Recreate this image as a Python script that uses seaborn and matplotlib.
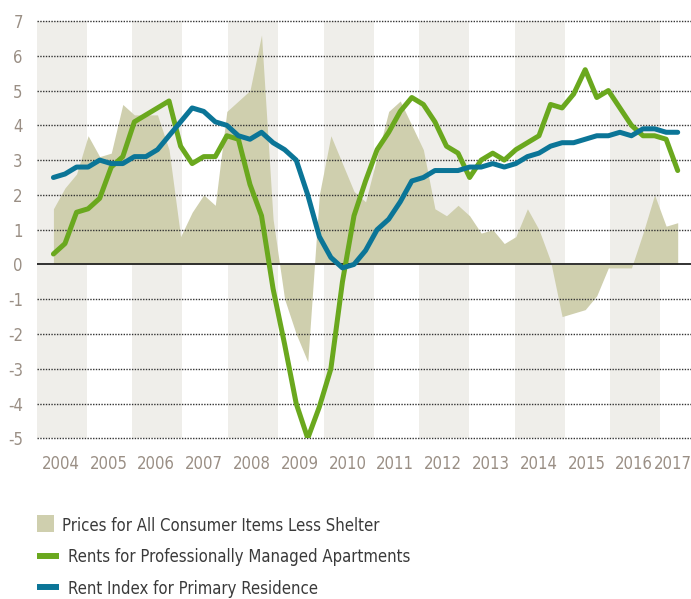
import numpy as np
import pandas as pd
import matplotlib
matplotlib.use('Agg')
import matplotlib.pyplot as plt
import seaborn as sns
from matplotlib import font_manager
from matplotlib.patches import Rectangle
from matplotlib.lines import Line2D

# quarterly year-over-year changes, %, 2004Q1 - 2017Q3
quarters = pd.period_range('2004Q1', '2017Q3', freq='Q').astype(str)

prices_less_shelter = [1.6, 2.2, 2.6, 3.7, 3.1, 3.2, 4.6, 4.3, 4.3, 4.3,
                       3.3, 0.8, 1.5, 2.0, 1.7, 4.4, 4.7, 5.0, 6.6, 1.3,
                       -1.0, -2.0, -2.8, 2.0, 3.7, 2.9, 2.1, 1.8, 3.1, 4.4,
                       4.7, 4.0, 3.3, 1.6, 1.4, 1.7, 1.4, 0.9, 1.0, 0.6,
                       0.8, 1.6, 1.0, 0.1, -1.5, -1.4, -1.3, -0.9, -0.1, -0.1,
                       -0.1, 0.9, 2.0, 1.1, 1.2]

rents_managed = [0.3, 0.6, 1.5, 1.6, 1.9, 2.8, 3.1, 4.1, 4.3, 4.5,
                 4.7, 3.4, 2.9, 3.1, 3.1, 3.7, 3.6, 2.3, 1.4, -0.7,
                 -2.3, -4.0, -5.0, -4.1, -3.0, -0.5, 1.4, 2.4, 3.3, 3.8,
                 4.4, 4.8, 4.6, 4.1, 3.4, 3.2, 2.5, 3.0, 3.2, 3.0,
                 3.3, 3.5, 3.7, 4.6, 4.5, 4.9, 5.6, 4.8, 5.0, 4.5,
                 4.0, 3.7, 3.7, 3.6, 2.7]

rent_index_primary = [2.5, 2.6, 2.8, 2.8, 3.0, 2.9, 2.9, 3.1, 3.1, 3.3,
                      3.7, 4.1, 4.5, 4.4, 4.1, 4.0, 3.7, 3.6, 3.8, 3.5,
                      3.3, 3.0, 2.0, 0.8, 0.2, -0.1, 0.0, 0.4, 1.0, 1.3,
                      1.8, 2.4, 2.5, 2.7, 2.7, 2.7, 2.8, 2.8, 2.9, 2.8,
                      2.9, 3.1, 3.2, 3.4, 3.5, 3.5, 3.6, 3.7, 3.7, 3.8,
                      3.7, 3.9, 3.9, 3.8, 3.8]

years = list(range(2004, 2018))
y_ticks = list(range(-5, 8))

legend_labels = ['Prices for All Consumer Items Less Shelter',
                 'Rents for Professionally Managed Apartments',
                 'Rent Index for Primary Residence']

GREEN = '#6aa81e'
BLUE = '#0b7597'
AREA = '#cfcfae'
BAND = '#efeeea'
TICK = '#9a8f85'
TEXT = '#3a3a3a'

sns.set_style('white')

# look for a narrow face; the original uses a condensed sans
names = {f.name for f in font_manager.fontManager.ttflist}
narrow = [f for f in font_manager.fontManager.ttflist
          if f.name in ('Liberation Sans Narrow', 'DejaVu Sans')
          and str(f.stretch) in ('condensed', 'semi-condensed', '412', '375')
          and f.weight in (400, 'normal')]
if 'Liberation Sans Narrow' in names:
    plt.rcParams['font.family'] = ['Liberation Sans Narrow', 'DejaVu Sans']
    FS = 13
elif narrow:
    plt.rcParams['font.family'] = [narrow[0].name]
    plt.rcParams['font.stretch'] = 'condensed'
    FS = 12
else:
    plt.rcParams['font.family'] = ['Roboto', 'DejaVu Sans']
    FS = 11

df = pd.DataFrame({
    'quarter': quarters,
    # the original stretches the quarters a bit across the year bands
    'x': np.linspace(2004.35, 2017.41, len(quarters)),
    'prices': prices_less_shelter,
    'managed': rents_managed,
    'index': rent_index_primary,
})

W, H = 691, 599
fig = plt.figure(figsize=(W / 100, H / 100), dpi=100)
ax = fig.add_axes([36.7 / W, 1 - 438.3 / H, 1 - 36.7 / W, (438.3 - 21) / H])

# alternating year bands
for yr in years[::2]:
    ax.axvspan(yr, yr + 1.05, color=BAND, lw=0, zorder=0)

ax.fill_between(df['x'], 0, df['prices'], color=AREA, lw=0, zorder=1)

for v in y_ticks:
    if v == 0:
        ax.axhline(0, color='#222222', lw=1.3, zorder=2)
    else:
        ax.axhline(v, color='#333333', lw=1.0, ls=(0, (1, 1)), zorder=2, clip_on=False)

sns.lineplot(data=df, x='x', y='managed', color=GREEN, lw=3.6, ax=ax, zorder=3)
sns.lineplot(data=df, x='x', y='index', color=BLUE, lw=3.6, ax=ax, zorder=4)

ax.set_xlim(2004, 2004 + (W - 36.7) / 47.8)
ax.set_ylim(-5, 7)
ax.set_yticks(y_ticks)
ax.set_yticklabels([str(v) for v in y_ticks])
ax.set_xticks([y + 0.5 for y in years[:-1]] + [2017.3])
ax.set_xticklabels([str(y) for y in years])
ax.tick_params(axis='y', length=0, pad=10, labelsize=FS, labelcolor=TICK)
ax.tick_params(axis='x', length=0, pad=12, labelsize=FS, labelcolor=TICK)
ax.set_xlabel('')
ax.set_ylabel('')
sns.despine(ax=ax, left=True, bottom=True)

# legend, drawn by hand below the chart
def fy(px):
    return 1 - px / H

fig.add_artist(Rectangle((37 / W, fy(531.7)), 16.7 / W, 16.7 / H,
                         transform=fig.transFigure, color=AREA, lw=0))
fig.text(62 / W, fy(525.7), legend_labels[0], fontsize=FS, color=TEXT, va='center')
fig.add_artist(Line2D([37 / W, 59 / W], [fy(556), fy(556)], transform=fig.transFigure,
                      color=GREEN, lw=4.3, solid_capstyle='butt'))
fig.text(67.7 / W, fy(557), legend_labels[1], fontsize=FS, color=TEXT, va='center')
fig.add_artist(Line2D([37 / W, 59 / W], [fy(587), fy(587)], transform=fig.transFigure,
                      color=BLUE, lw=4.3, solid_capstyle='butt'))
fig.text(67.7 / W, fy(588.5), legend_labels[2], fontsize=FS, color=TEXT, va='center')

fig.savefig('out.png', dpi=100)
